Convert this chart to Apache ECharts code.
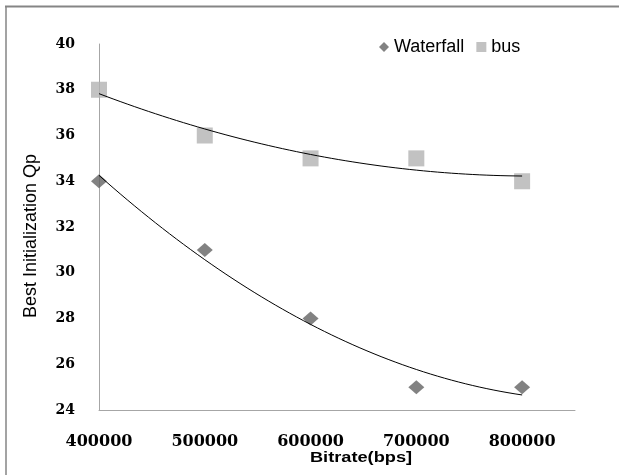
<!DOCTYPE html>
<html>
<head>
<meta charset="utf-8">
<script src="https://cdn.jsdelivr.net/npm/echarts@6/dist/echarts.min.js"></script>
<style>html,body{margin:0;padding:0;background:#fff;}#c{width:619px;height:475px;}</style>
</head>
<body>
<div id="c"></div>
<script>
// Data
var bitrates = [400000, 500000, 600000, 700000, 800000];
var waterfallQp = [34, 31, 28, 25, 25];
var busQp = [38, 36, 35, 35, 34];
var xTicks = [400000, 500000, 600000, 700000, 800000];
var yTicks = [24, 26, 28, 30, 32, 34, 36, 38, 40];

// Quadratic least-squares trendline (like Excel's polynomial trendline, order 2)
function polyFit2(xs, ys) {
  var n = xs.length, s = [0,0,0,0,0], t = [0,0,0];
  for (var i = 0; i < n; i++) {
    var x = (xs[i] - 400000) / 100000;
    var p = 1;
    for (var k = 0; k < 5; k++) { s[k] += p; if (k < 3) t[k] += p * ys[i]; p *= x; }
  }
  var A = [[s[0],s[1],s[2],t[0]],[s[1],s[2],s[3],t[1]],[s[2],s[3],s[4],t[2]]];
  for (var c = 0; c < 3; c++) {
    for (var r = c + 1; r < 3; r++) {
      var f = A[r][c] / A[c][c];
      for (var j = c; j < 4; j++) A[r][j] -= f * A[c][j];
    }
  }
  var b = [0,0,0];
  for (var r2 = 2; r2 >= 0; r2--) {
    var v = A[r2][3];
    for (var j2 = r2 + 1; j2 < 3; j2++) v -= A[r2][j2] * b[j2];
    b[r2] = v / A[r2][r2];
  }
  var pts = [];
  var x0 = xs[0], x1 = xs[xs.length - 1];
  for (var m = 0; m <= 60; m++) {
    var xv = x0 + (x1 - x0) * m / 60;
    var u = (xv - 400000) / 100000;
    pts.push([xv, b[0] + b[1] * u + b[2] * u * u]);
  }
  return pts;
}

var wfPts = bitrates.map(function (x, i) { return [x, waterfallQp[i]]; });
var busPts = bitrates.map(function (x, i) { return [x, busQp[i]]; });

var chart = echarts.init(document.getElementById('c'), null, {renderer: 'canvas'});
chart.setOption({
  backgroundColor: '#ffffff',
  animation: false,
  grid: {left: 99, right: 44, top: 44, bottom: 65},
  legend: {
    left: 374, top: 33,
    itemWidth: 10, itemHeight: 10, itemGap: 12,
    textStyle: {fontFamily: 'Liberation Sans', fontSize: 18, color: '#000'},
    data: [{name: 'Waterfall', icon: 'diamond'}, {name: 'bus', icon: 'rect'}]
  },
  xAxis: {
    type: 'value', min: 400000, max: 850000, interval: 100000,
    axisLine: {show: true, lineStyle: {color: '#a6a6a6', width: 1}},
    axisTick: {show: false},
    splitLine: {show: false},
    axisLabel: {
      margin: 24, fontFamily: 'DejaVu Serif', fontWeight: 'bold', fontSize: 16, color: '#000',
      formatter: function (v) { return xTicks.indexOf(v) >= 0 ? String(v) : ''; }
    }
  },
  yAxis: {
    type: 'value', min: 24, max: 40, interval: 2,
    axisLine: {show: true, lineStyle: {color: '#a6a6a6', width: 1}},
    axisTick: {show: false},
    splitLine: {show: false},
    axisLabel: {
      margin: 24, fontFamily: 'DejaVu Serif', fontWeight: 'bold', fontSize: 14, color: '#000',
      formatter: function (v) { return yTicks.indexOf(v) >= 0 ? String(v) : ''; }
    }
  },
  graphic: [
    {type: 'line', shape: {x1: 5, y1: 6.5, x2: 619, y2: 6.5}, style: {stroke: '#858585', lineWidth: 2}},
    {type: 'line', shape: {x1: 6, y1: 6, x2: 6, y2: 475}, style: {stroke: '#858585', lineWidth: 1.5}},
    {type: 'text', x: 31, y: 236, rotation: Math.PI / 2,
      style: {text: 'Best Initialization Qp', font: '18px "Liberation Sans"', fill: '#000', align: 'center', verticalAlign: 'middle'}},
    {type: 'text', x: 361, y: 458, scaleX: 1.3,
      style: {text: 'Bitrate(bps]', font: 'bold 14px "Liberation Sans"', fill: '#000', align: 'center', verticalAlign: 'middle'}}
  ],
  series: [
    {name: 'Waterfall', type: 'scatter', data: wfPts, symbol: 'diamond', symbolSize: [16, 14],
      itemStyle: {color: '#636363'}, z: 2},
    {name: 'bus', type: 'scatter', data: busPts, symbol: 'rect', symbolSize: 16,
      itemStyle: {color: '#b3b3b3'}, z: 2},
    {name: 'wfTrend', type: 'line', data: polyFit2(bitrates, waterfallQp), showSymbol: false, symbol: 'none',
      lineStyle: {color: '#000', width: 1}, z: 3, silent: true},
    {name: 'busTrend', type: 'line', data: polyFit2(bitrates, busQp), showSymbol: false, symbol: 'none',
      lineStyle: {color: '#000', width: 1}, z: 3, silent: true}
  ]
});
</script>
</body>
</html>
